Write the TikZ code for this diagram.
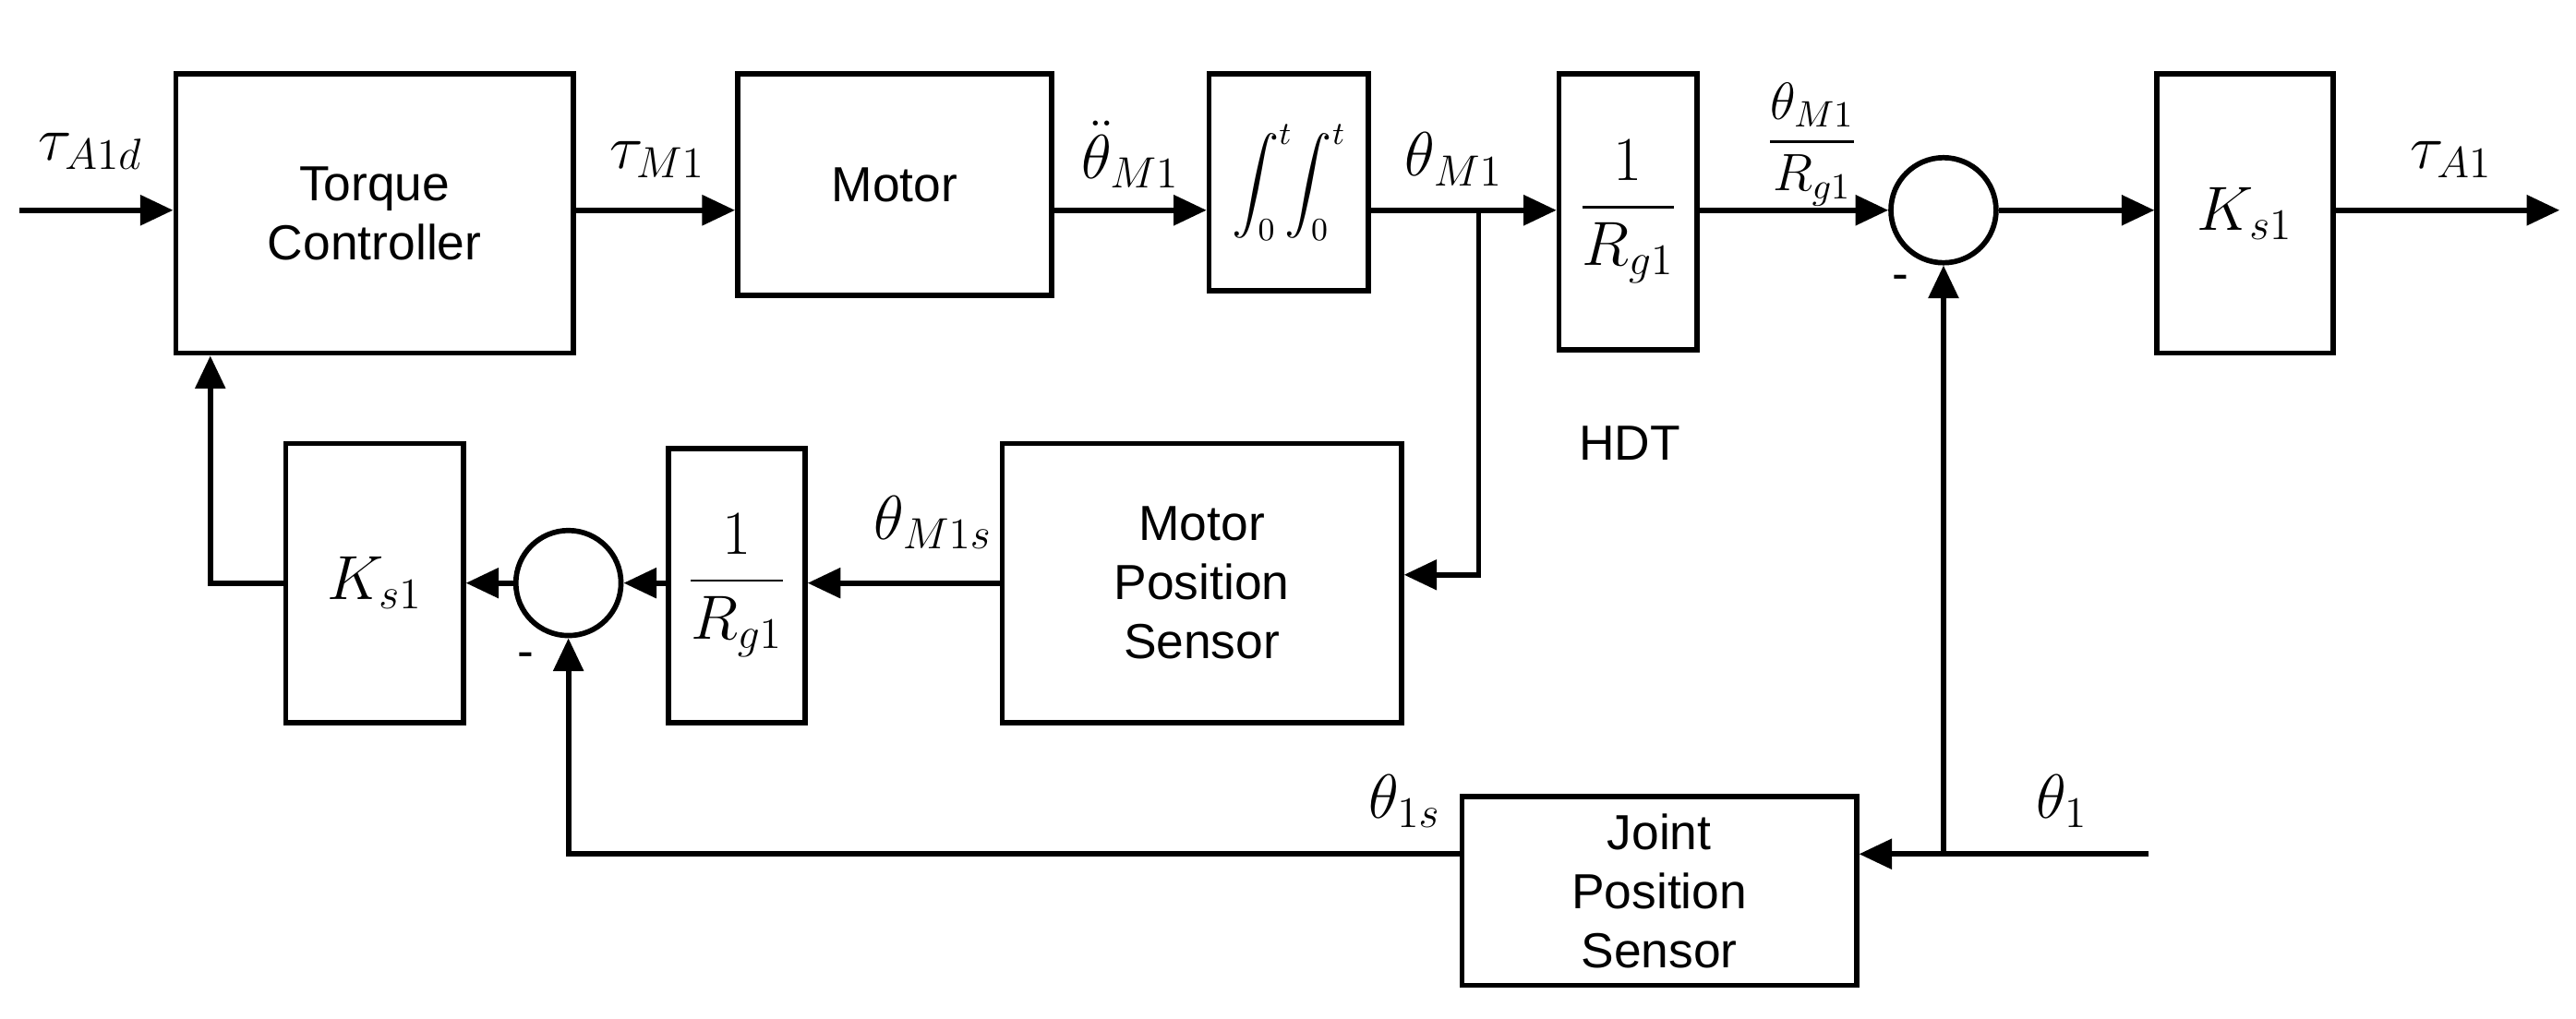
\RequirePackage{fix-cm}
\documentclass[tikz,border=0pt]{standalone}
\usepackage{amsmath}
\usepackage{fontspec}
\setmainfont{Liberation Sans}
\usetikzlibrary{arrows.meta}
\begin{document}
\begin{tikzpicture}[x=0.5pt,y=-0.5pt,
  blk/.style={draw,line width=1.6pt,inner sep=0pt,font=\fontsize{15}{18}\selectfont,align=center},
  mblk/.style={blk,font=\fontsize{19}{22}\selectfont},
  sum/.style={draw,line width=1.6pt,circle,minimum size=32pt,inner sep=0pt},
  ar/.style={line width=1.6pt,-{Triangle[length=10pt,width=9pt]}},
  lb/.style={font=\fontsize{19}{22}\selectfont}]
\useasboundingbox (0,0) rectangle (1568,620);
\node[blk,minimum width=121pt,minimum height=85pt] (tc) at (228,130) {Torque\\Controller};
\node[blk,minimum width=95.5pt,minimum height=67.5pt] (mo) at (544.5,112.5) {Motor};
\node[blk,minimum width=48.5pt,minimum height=66pt,font=\fontsize{14}{16}\selectfont] (in) at (784.5,111) {$\displaystyle\int_0^t\!\!\int_0^t$};
\node[mblk,minimum width=42pt,minimum height=84pt] (r1) at (991,129) {$\dfrac{1}{R_{g1}}$};
\node[sum] (s1) at (1183,128) {};
\node[mblk,minimum width=53.5pt,minimum height=85pt] (k1) at (1366.5,130) {$K_{s1}$};
\node[blk,minimum width=121.5pt,minimum height=85pt] (mps) at (731.5,355) {Motor\\Position\\Sensor};
\node[mblk,minimum width=41.5pt,minimum height=83.5pt] (r2) at (448.5,356.5) {$\dfrac{1}{R_{g1}}$};
\node[sum] (s2) at (346,355) {};
\node[mblk,minimum width=54pt,minimum height=85pt] (k2) at (228,355) {$K_{s1}$};
\node[blk,minimum width=120pt,minimum height=57.5pt] (jps) at (1010,542.5) {Joint\\Position\\Sensor};
\coordinate (in0) at (12,128);
\coordinate (out0) at (1558,128);
\coordinate (br) at (900,128);
\coordinate (th) at (1308,520);
\coordinate (br2) at (1183,520);
\draw[ar] (in0) -- (in0 -| tc.west);
\draw[ar] (tc.east |- 0,128) -- (mo.west |- 0,128);
\draw[ar] (mo.east |- 0,128) -- (in.west |- 0,128);
\draw[ar] (in.east |- 0,128) -- (r1.west |- 0,128);
\draw[ar] (r1.east |- 0,128) -- (s1.west);
\draw[ar] (s1.east) -- (k1.west |- 0,128);
\draw[ar] (k1.east |- 0,128) -- (out0);
\draw[ar] (br) -- (900,350) -- (mps.east |- 0,350);
\draw[ar] (mps.west) -- (r2.east |- mps.west);
\draw[ar] (r2.west |- 0,355) -- (s2.east);
\draw[ar] (s2.west) -- (k2.east |- 0,355);
\draw[ar] (k2.west) -- (128,355) -- (tc.south -| 128,0);
\draw[ar] (th) -- (jps.east |- th);
\draw[ar] (br2) -- (s1.south);
\draw[ar] (jps.west |- 0,520) -- (346,520) -- (s2.south);
\node[lb] at (55,92) {$\tau_{A1d}$};
\node[lb] at (400,97) {$\tau_{M1}$};
\node[lb] at (688,94) {$\ddot\theta_{M1}$};
\node[lb] at (885,97) {$\theta_{M1}$};
\node[lb,font=\fontsize{16}{18}\selectfont] at (1103,88) {$\dfrac{\theta_{M1}}{R_{g1}}$};
\node[lb] at (1492,97) {$\tau_{A1}$};
\node[lb] at (568,318) {$\theta_{M1s}$};
\node[lb] at (855,488) {$\theta_{1s}$};
\node[lb] at (1255,488) {$\theta_{1}$};
\node[font=\fontsize{15}{18}\selectfont] at (992,270) {HDT};
\node[font=\fontsize{15}{18}\selectfont] at (1157,172) {-};
\node[font=\fontsize{15}{18}\selectfont] at (320,402) {-};
\end{tikzpicture}
\end{document}
